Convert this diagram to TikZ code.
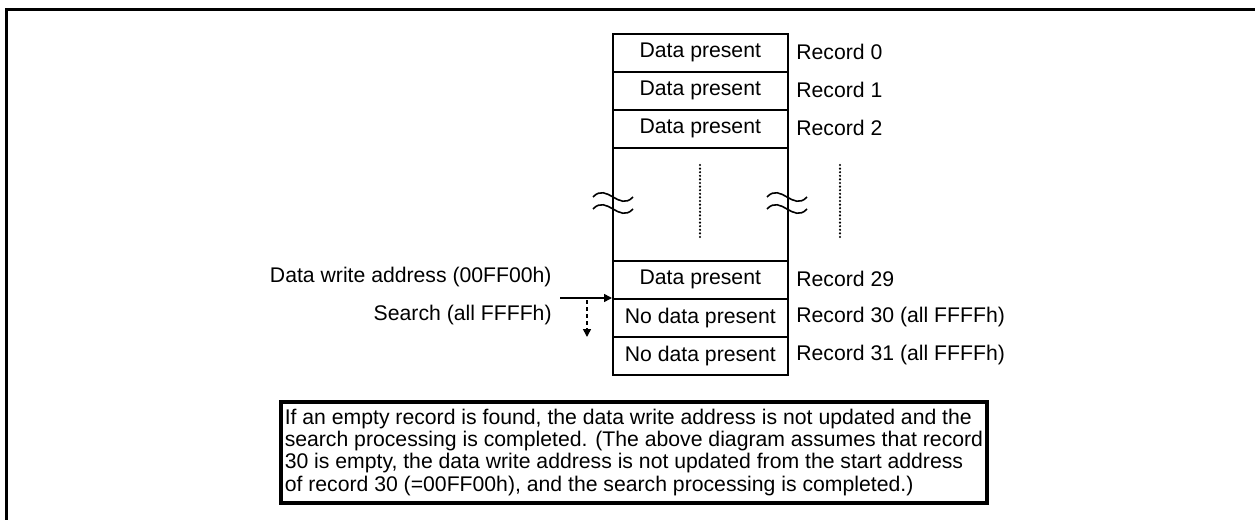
\documentclass[tikz,border=0pt]{standalone}
\usepackage{fontspec}
\setmainfont{Liberation Sans}
\usetikzlibrary{arrows.meta}
\begin{document}
\begin{tikzpicture}[x=0.5pt,y=-0.5pt,
  font=\fontsize{10.6}{10.75}\selectfont,
  cell/.style={draw,line width=0.8pt,minimum width=87.5pt,minimum height=19pt,inner sep=0pt,anchor=north west},
  rec/.style={anchor=west,inner sep=0pt},
  lbl/.style={anchor=east,inner sep=0pt},
  wave/.style={line width=0.8pt},
  dotline/.style={line width=1.2pt,line cap=round,dash pattern=on 0pt off 1.8pt},
  arr/.style={line width=0.8pt,-{Triangle[length=4pt,width=4pt]}},
  frame/.style={line width=1.5pt},
  notebox/.style={draw,line width=1.75pt,anchor=north west,inner xsep=2pt,inner ysep=2pt,minimum height=50.5pt,align=left,font=\fontsize{10.6}{11.2}\selectfont}
]
\useasboundingbox (0,0) rectangle (1255,520);
\draw[frame] (6.5,520) -- (6.5,9.5) -- (1255,9.5);

% table cells
\node[cell] (c0) at (612,33) {Data present};
\node[cell] (c1) at (612,71) {Data present};
\node[cell] (c2) at (612,109) {Data present};
\node[cell,minimum height=56.5pt] (cg) at (612,147) {};
\node[cell] (c29) at (612,260) {Data present};
\node[cell] (c30) at (612,298) {No data present};
\node[cell] (c31) at (612,336) {No data present};

% record labels
\node[rec] (r0) at (796,52) {Record 0};
\node[rec] (r1) at (796,90) {Record 1};
\node[rec] (r2) at (796,128) {Record 2};
\node[rec] (r29) at (796,279) {Record 29};
\node[rec] (r30) at (796,317) {Record 30 (all FFFFh)};
\node[rec] (r31) at (796,355) {Record 31 (all FFFFh)};

% breaks
\draw[wave] (593,197) .. controls (607,182) and (619,212) .. (633,197);
\draw[wave] (593,209) .. controls (607,194) and (619,224) .. (633,209);
\draw[wave] (767,197) .. controls (781,182) and (793,212) .. (807,197);
\draw[wave] (767,209) .. controls (781,194) and (793,224) .. (807,209);

% dotted continuation
\coordinate (p0) at (700,165);
\coordinate (p1) at (700,238);
\coordinate (q0) at (840,165);
\coordinate (q1) at (840,238);
\draw[dotline] (p0) -- (p1);
\draw[dotline] (q0) -- (q1);

% left labels and arrows
\node[lbl] (la) at (552,277) {Data write address (00FF00h)};
\node[lbl] (ls) at (552,315) {Search (all FFFFh)};
\coordinate (a0) at (560,298);
\draw[arr] (a0) -- (c30.north west);
\coordinate (d0) at (587,300);
\coordinate (d1) at (587,337);
\draw[arr,dash pattern=on 2pt off 1.5pt] (d0) -- (d1);

% note
\node[notebox] (note) at (279,400) {If an empty record is found, the data write address is not updated and the\\
search processing is completed. (The above diagram assumes that record\\
30 is empty, the data write address is not updated from the start address\\
of record 30 (=00FF00h), and the search processing is completed.)};
\end{tikzpicture}
\end{document}
